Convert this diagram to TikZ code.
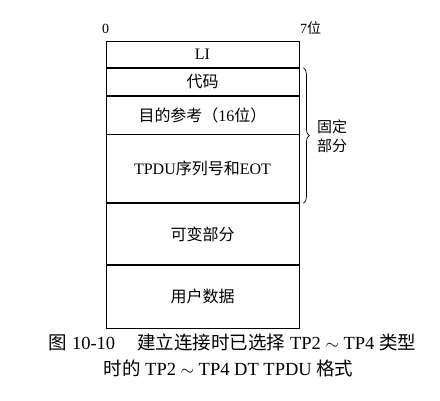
\documentclass[tikz,border=0pt]{standalone}
\usepackage{fontspec}
\setmainfont{Liberation Serif}
\newfontfamily\cjk{Noto Sans CJK SC}
\usetikzlibrary{decorations.pathreplacing}
\begin{document}
\begin{tikzpicture}[x=1pt,y=-1pt,
  field/.style={draw, line width=0.8pt, minimum width=193pt, inner sep=0pt, anchor=north, font=\fontsize{16}{18}\selectfont},
  lbl/.style={font=\fontsize{14}{16}\selectfont, inner sep=0pt},
  captext/.style={font=\fontsize{18.5}{20}\selectfont, inner sep=0pt}]
\useasboundingbox (0,0) rectangle (440,400);
\node[field, minimum height=26pt] (li) at (202.5,41) {LI};
\node[field, minimum height=27pt] (code) at (li.south) {\cjk 代码};
\node[field, minimum height=38pt] (dst) at (code.south) {{\cjk 目的参考（}16{\cjk 位）}};
\node[field, minimum height=68pt] (tpdu) at (dst.south) {TPDU{\cjk 序列号和}EOT};
\node[field, minimum height=61pt] (var) at (tpdu.south) {\cjk 可变部分};
\node[field, minimum height=63pt] (user) at (var.south) {\cjk 用户数据};
\node[lbl, anchor=base west] (b0) at (102,33) {0};
\node[lbl, anchor=base west] (b7) at (300,33) {7{\cjk 位}};
\draw[decorate, decoration={brace, amplitude=6pt}, line width=0.7pt]
  ([xshift=4pt]code.north east) coordinate (bt) -- ([xshift=4pt]tpdu.south east) coordinate (bb);
\node[lbl, align=left, anchor=west, font=\fontsize{15}{19}\selectfont\cjk] (fix) at (317,136) {固定\\部分};
\node[captext] (cap1) at (232.5,342) {{\cjk 图} 10-10\hspace{1.2em}{\cjk 建立连接时已选择} TP2 $\sim$ TP4 {\cjk 类型}};
\node[captext] (cap2) at (228.5,368) {{\cjk 时的} TP2 $\sim$ TP4 DT TPDU {\cjk 格式}};
\end{tikzpicture}
\end{document}
